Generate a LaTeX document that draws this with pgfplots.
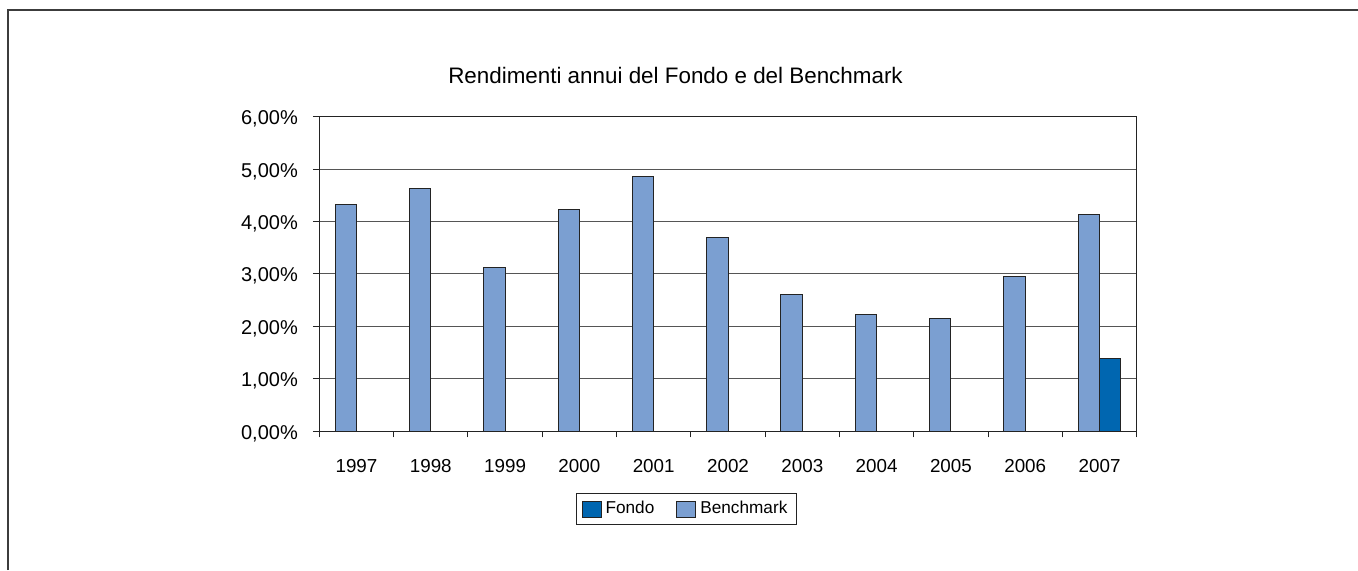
\documentclass[border=0pt]{standalone}
\usepackage{fontspec}
\setmainfont{Liberation Sans}
\usepackage{pgfplots}
\pgfplotsset{compat=1.18}
\definecolor{bench}{RGB}{123,159,209}
\definecolor{fondo}{RGB}{0,102,176}
\definecolor{gridc}{RGB}{85,85,85}
\definecolor{edgec}{RGB}{35,35,35}
\begin{document}
\begin{tikzpicture}
\path[use as bounding box] (0,0) rectangle (679pt,285pt);
\draw[line width=1pt, color={rgb,255:red,60;green,60;blue,60}] (4pt,0pt) -- (4pt,280pt) -- (679pt,280pt);
\node[anchor=base, inner sep=0pt, font=\fontsize{11.2}{13}\selectfont] at (337.75pt,243.5pt) {Rendimenti annui del Fondo e del Benchmark};
\begin{axis}[
  at={(159.65pt,69.5pt)}, anchor=south west,
  scale only axis, width=408.7pt, height=157.15pt,
  xmin=-0.5, xmax=10.5, ymin=0, ymax=6,
  xtick={0,...,10},
  xticklabels={1997,1998,1999,2000,2001,2002,2003,2004,2005,2006,2007},
  major x tick style={draw=none},
  minor xtick={-0.5,0.5,...,10.5},
  minor tick length=3.2pt,
  xtick align=outside, ytick align=outside,
  xtick pos=lower, ytick pos=left,
  major tick length=3.2pt,
  ytick={0,1,2,3,4,5,6},
  yticklabels={{0,00\%},{1,00\%},{2,00\%},{3,00\%},{4,00\%},{5,00\%},{6,00\%}},
  ymajorgrids, grid style={gridc, line width=0.5pt},
  axis line style={edgec, line width=0.5pt},
  tick style={edgec, line width=0.5pt},
  xticklabel style={font=\fontsize{9.4}{11}\selectfont, anchor=base, yshift=-17.5pt},
  yticklabel style={font=\fontsize{10}{12}\selectfont, anchor=east, yshift=-1.2pt, xshift=-4pt},
  legend style={at={(0.4492,-0.2482)}, anchor=center, legend columns=2,
    draw=edgec, line width=0.5pt, inner xsep=2.5pt, inner ysep=1.8pt,
    font=\fontsize{8.6}{10}\selectfont,
    /tikz/every even column/.append style={column sep=9pt}},
  legend image code/.code={\draw[#1, line width=0.5pt] (0pt,-4pt) rectangle (9.5pt,4pt);},
]
\addplot[ybar, bar width=0.287, bar shift=0.1435, fill=fondo, draw=edgec, line width=0.5pt]
  coordinates {(10,1.39)};
\addlegendentry{Fondo}
\addplot[ybar, bar width=0.287, bar shift=-0.1435, fill=bench, draw=edgec, line width=0.5pt]
  coordinates {(0,4.33) (1,4.63) (2,3.125) (3,4.23) (4,4.86) (5,3.69) (6,2.60) (7,2.23) (8,2.14) (9,2.95) (10,4.14)};
\addlegendentry{Benchmark\hspace{6pt}}
\end{axis}
\end{tikzpicture}
\end{document}
